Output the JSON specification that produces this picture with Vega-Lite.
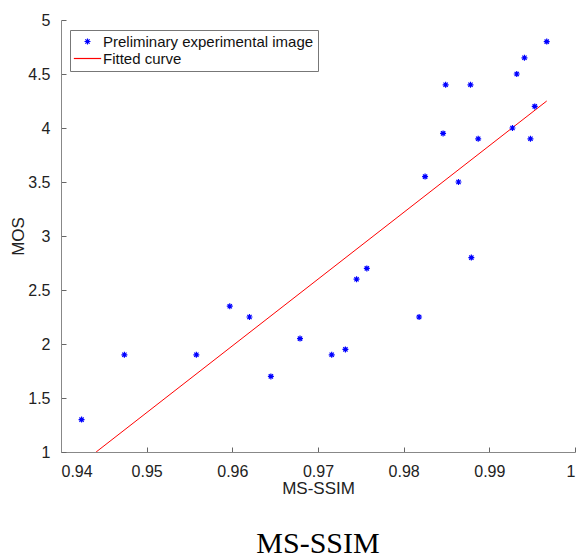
{
  "$schema": "https://vega.github.io/schema/vega-lite/v6.json",
  "autosize": "none",
  "width": 514,
  "height": 432,
  "padding": {"left": 61, "top": 20, "right": 4, "bottom": 106},
  "background": "white",
  "title": {"text": "MS-SSIM", "orient": "bottom", "font": "Liberation Serif", "fontSize": 30, "fontWeight": "normal", "color": "#000000", "offset": 33, "anchor": "middle"},
  "config": {
    "view": {"stroke": null},
    "axis": {"grid": false, "domainColor": "#888888", "tickColor": "#666666", "labelColor": "#222222", "titleColor": "#222222", "labelFont": "Liberation Sans", "titleFont": "Liberation Sans", "labelFontSize": 16, "titleFontSize": 17, "titleFontWeight": "normal", "tickSize": -5, "tickWidth": 1, "labelPadding": 16},
    "legend": {"title": null, "orient": "none", "legendX": 9, "legendY": 10, "strokeColor": "#777777", "fillColor": "white", "padding": 4, "labelFont": "Liberation Sans", "labelFontSize": 15, "labelColor": "#111111", "labelLimit": 400, "symbolSize": 169, "symbolOffset": 6, "labelOffset": 8, "rowPadding": 1, "symbolStrokeWidth": 1.2}
  },
  "datasets": {
    "pts": [
      {"x": 0.9424, "y": 1.3, "series": "Preliminary experimental image"},
      {"x": 0.9474, "y": 1.9, "series": "Preliminary experimental image"},
      {"x": 0.9558, "y": 1.9, "series": "Preliminary experimental image"},
      {"x": 0.9597, "y": 2.35, "series": "Preliminary experimental image"},
      {"x": 0.9620, "y": 2.25, "series": "Preliminary experimental image"},
      {"x": 0.9645, "y": 1.7, "series": "Preliminary experimental image"},
      {"x": 0.9679, "y": 2.05, "series": "Preliminary experimental image"},
      {"x": 0.9716, "y": 1.9, "series": "Preliminary experimental image"},
      {"x": 0.9732, "y": 1.95, "series": "Preliminary experimental image"},
      {"x": 0.9745, "y": 2.6, "series": "Preliminary experimental image"},
      {"x": 0.9757, "y": 2.7, "series": "Preliminary experimental image"},
      {"x": 0.9818, "y": 2.25, "series": "Preliminary experimental image"},
      {"x": 0.9879, "y": 2.8, "series": "Preliminary experimental image"},
      {"x": 0.9825, "y": 3.55, "series": "Preliminary experimental image"},
      {"x": 0.9846, "y": 3.95, "series": "Preliminary experimental image"},
      {"x": 0.9849, "y": 4.4, "series": "Preliminary experimental image"},
      {"x": 0.9878, "y": 4.4, "series": "Preliminary experimental image"},
      {"x": 0.9864, "y": 3.5, "series": "Preliminary experimental image"},
      {"x": 0.9887, "y": 3.9, "series": "Preliminary experimental image"},
      {"x": 0.9927, "y": 4.0, "series": "Preliminary experimental image"},
      {"x": 0.9932, "y": 4.5, "series": "Preliminary experimental image"},
      {"x": 0.9941, "y": 4.65, "series": "Preliminary experimental image"},
      {"x": 0.9948, "y": 3.9, "series": "Preliminary experimental image"},
      {"x": 0.9953, "y": 4.2, "series": "Preliminary experimental image"},
      {"x": 0.9967, "y": 4.8, "series": "Preliminary experimental image"}
    ],
    "fit": [
      {"x": 0.9441, "y": 1.0, "series": "Fitted curve"},
      {"x": 0.9967, "y": 4.25, "series": "Fitted curve"}
    ]
  },
  "encoding": {
    "x": {"field": "x", "type": "quantitative", "title": "MS-SSIM", "scale": {"domain": [0.94, 1], "nice": false, "zero": false}, "axis": {"values": [0.94, 0.95, 0.96, 0.97, 0.98, 0.99, 1], "format": "~g", "titlePadding": 1}},
    "y": {"field": "y", "type": "quantitative", "title": "MOS", "scale": {"domain": [1, 5], "nice": false, "zero": false}, "axis": {"values": [1, 1.5, 2, 2.5, 3, 3.5, 4, 4.5, 5], "format": "~g", "titlePadding": 0}}
  },
  "layer": [
    {
      "data": {"name": "fit"},
      "mark": {"type": "line", "strokeWidth": 1, "clip": true},
      "encoding": {
        "color": {"field": "series", "type": "nominal", "scale": {"domain": ["Preliminary experimental image", "Fitted curve"], "range": ["#0000ff", "#ff0000"]}}
      }
    },
    {
      "data": {"name": "pts"},
      "mark": {"type": "point", "filled": false, "size": 169, "strokeWidth": 1.2, "opacity": 1},
      "encoding": {
        "color": {"field": "series", "type": "nominal", "scale": {"domain": ["Preliminary experimental image", "Fitted curve"], "range": ["#0000ff", "#ff0000"]}},
        "shape": {"field": "series", "type": "nominal", "scale": {"domain": ["Preliminary experimental image", "Fitted curve"], "range": ["M-0.46,0H0.46M0,-0.46V0.46M-0.33,-0.33L0.33,0.33M-0.33,0.33L0.33,-0.33", "M-2.1,0H2.1"]}}
      }
    }
  ]
}
